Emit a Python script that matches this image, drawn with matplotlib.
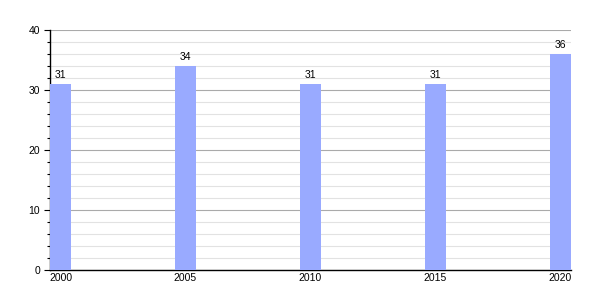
import matplotlib
matplotlib.use("Agg")
import matplotlib.pyplot as plt
from matplotlib.ticker import MultipleLocator

# values
years = ["2000", "2005", "2010", "2015", "2020"]
values = [31, 34, 31, 31, 36]

bar_color = "#99aaff"
bar_w = 0.168

fig = plt.figure(figsize=(6, 3), dpi=100)
ax = fig.add_axes([50 / 600, 30 / 300, 521 / 600, 240 / 300])

pos = list(range(len(years)))
bars = ax.bar(pos, values, width=bar_w, align="edge", color=bar_color, zorder=3)

# value labels above bars
for p, v in zip(pos, values):
    ax.text(p + bar_w / 2, v + 0.6, str(v), ha="center", va="bottom",
            fontsize=7.5, family="Liberation Sans", zorder=4)

ax.set_xlim(0, len(years) - 1 + bar_w)
ax.set_ylim(0, 40)
ax.set_xticks([p + bar_w / 2 for p in pos])
ax.set_xticklabels(years)

ax.yaxis.set_major_locator(MultipleLocator(10))
ax.yaxis.set_minor_locator(MultipleLocator(2))
ax.grid(which="major", axis="y", color="#aaaaaa", linewidth=0.8, zorder=0)
ax.grid(which="minor", axis="y", color="#e2e2e2", linewidth=0.8, zorder=0)

for s in ["top", "right"]:
    ax.spines[s].set_visible(False)
ax.spines["left"].set_color("black")
ax.spines["bottom"].set_color("black")
ax.spines["left"].set_linewidth(1)
ax.spines["bottom"].set_linewidth(1)

ax.tick_params(axis="y", which="major", length=4, width=0.8, labelsize=7.5, pad=3)
ax.tick_params(axis="y", which="minor", length=2.5, width=0.8)
ax.tick_params(axis="x", length=0, labelsize=7.5, pad=2)
for lab in ax.get_xticklabels() + ax.get_yticklabels():
    lab.set_family("Liberation Sans")

fig.savefig("out.png", dpi=100)
